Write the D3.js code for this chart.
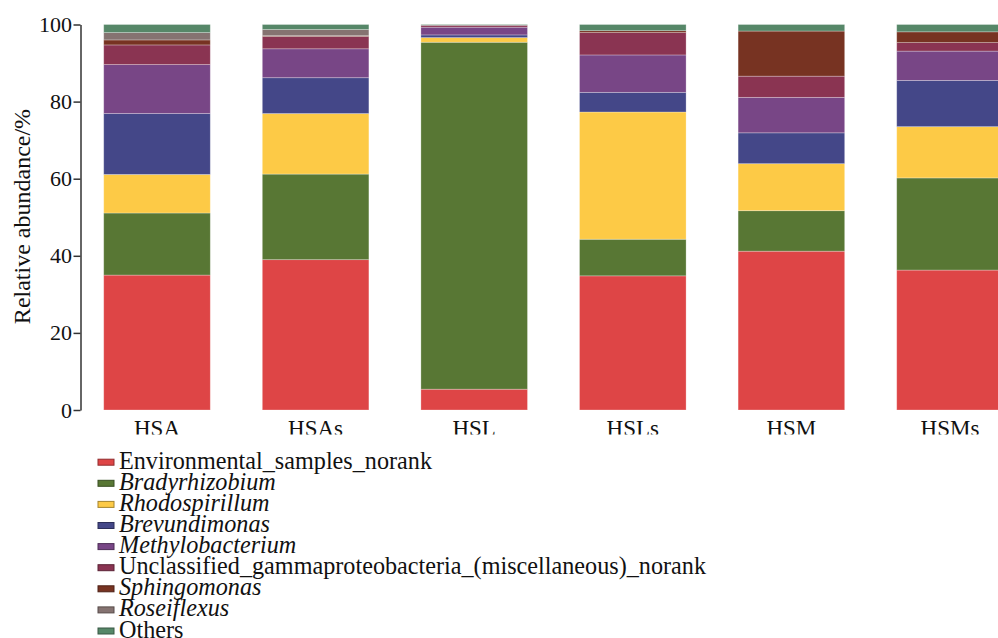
<!DOCTYPE html>
<html><head><meta charset="utf-8">
<script src="https://cdn.jsdelivr.net/npm/d3@7/dist/d3.min.js"></script>
<style>
html,body{margin:0;padding:0;background:#fff;}
svg{display:block;}
svg text{font-family:"Liberation Serif","Times New Roman",Times,serif;}
</style></head>
<body>
<svg id="chart" width="998" height="638"></svg>
<script>
// ---- data ----
const categories = ["HSA", "HSAs", "HSL", "HSLs", "HSM", "HSMs"];
const seriesNames = ["Environmental_samples_norank", "Bradyrhizobium", "Rhodospirillum", "Brevundimonas",
  "Methylobacterium", "Unclassified_gammaproteobacteria_(miscellaneous)_norank", "Sphingomonas", "Roseiflexus", "Others"];
const italicSeries = ["Bradyrhizobium", "Rhodospirillum", "Brevundimonas", "Methylobacterium", "Sphingomonas", "Roseiflexus"];
const environmentalSamples = [35.0, 39.0, 5.4, 34.8, 41.2, 36.3];
const bradyrhizobium       = [16.1, 22.2, 90.0, 9.5, 10.5, 23.9];
const rhodospirillum       = [10.0, 15.7, 1.2, 33.0, 12.2, 13.3];
const brevundimonas        = [15.8, 9.3, 0.7, 5.1, 8.0, 12.0];
const methylobacterium     = [12.7, 7.5, 2.0, 9.7, 9.2, 7.6];
const unclassifiedGamma    = [5.1, 3.2, 0.5, 5.8, 5.5, 2.2];
const sphingomonas         = [1.3, 0.2, 0.0, 0.5, 11.7, 2.8];
const roseiflexus          = [1.9, 1.6, 0.0, 0.0, 0.0, 0.0];
const others               = [2.1, 1.3, 0.2, 1.6, 1.7, 1.9];
const yTicks = [0, 20, 40, 60, 80, 100];
const yTitle = "Relative abundance/%";
const colors = ["#de4546", "#587734", "#fdca46", "#444788", "#784686", "#8a3452", "#773322", "#857371", "#568768"];

const seriesValues = [environmentalSamples, bradyrhizobium, rhodospirillum, brevundimonas,
  methylobacterium, unclassifiedGamma, sphingomonas, roseiflexus, others];

const FONT = "'Liberation Serif', 'Times New Roman', Times, serif";

// build table
const table = categories.map((c, i) => {
  const row = {cat: c};
  seriesNames.forEach((s, j) => row[s] = seriesValues[j][i]);
  return row;
});
const stacked = d3.stack().keys(seriesNames)(table);

const svg = d3.select("#chart");
const x = d3.scaleBand().domain(categories).range([77.7, 1029.3]).paddingInner(0.328).paddingOuter(0.164);
const y = d3.scaleLinear().domain([0, 100]).range([410, 24.5]);
const color = d3.scaleOrdinal().domain(seriesNames).range(colors);

// bars
svg.append("g").selectAll("g").data(stacked).join("g")
  .attr("fill", d => color(d.key))
  .selectAll("rect").data(d => d).join("rect")
  .attr("x", d => x(d.data.cat))
  .attr("width", x.bandwidth())
  .attr("y", d => y(d[1]))
  .attr("height", d => Math.max(0, y(d[0]) - y(d[1])))
  .attr("stroke", "rgba(255,255,255,0.35)")
  .attr("stroke-width", 0.8);

// y axis
const yAxis = svg.append("g").attr("transform", "translate(80.5,0)")
  .call(d3.axisLeft(y).tickValues(yTicks).tickSize(7).tickSizeOuter(0).tickPadding(1.5));
yAxis.attr("font-family", FONT);
yAxis.select(".domain").attr("stroke", "#333").attr("stroke-width", 1.5);
yAxis.selectAll(".tick line").attr("stroke", "#333").attr("stroke-width", 1.5);
yAxis.selectAll(".tick text").attr("font-size", 22).attr("fill", "#111")
  .attr("font-family", FONT);

// y title
svg.append("text")
  .attr("transform", "translate(30,216.5) rotate(-90)")
  .attr("text-anchor", "middle")
  .attr("font-family", FONT)
  .attr("font-size", 24).attr("fill", "#111")
  .text(yTitle);

// x labels (clipped at bottom as in reference)
svg.append("defs").append("clipPath").attr("id", "xclip")
  .append("rect").attr("x", 0).attr("y", 412).attr("width", 998).attr("height", 22.5);
svg.append("g").attr("clip-path", "url(#xclip)")
  .selectAll("text").data(categories).join("text")
  .attr("x", d => x(d) + x.bandwidth() / 2)
  .attr("y", 435.5)
  .attr("text-anchor", "middle")
  .attr("font-family", FONT)
  .attr("font-size", 23).attr("fill", "#111")
  .text(d => d);

// legend
const leg = svg.append("g");
const rowH = 21.1, base0 = 468.7;
seriesNames.forEach((s, i) => {
  const by = base0 + i * rowH;
  leg.append("rect")
    .attr("x", 98).attr("y", by - 9.5).attr("width", 16).attr("height", 6)
    .attr("fill", color(s))
    .attr("stroke", d3.color(color(s)).darker(1.2))
    .attr("stroke-width", 1);
  leg.append("text")
    .attr("x", 119).attr("y", by)
    .attr("font-family", FONT)
    .attr("font-size", 24.2).attr("fill", "#111")
    .attr("font-style", italicSeries.includes(s) ? "italic" : "normal")
    .text(s);
});
</script>
</body></html>
